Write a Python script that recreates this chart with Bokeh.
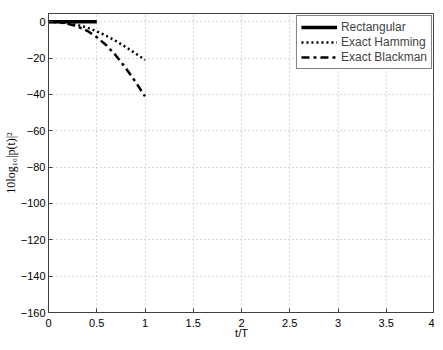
from bokeh.plotting import figure
from bokeh.models import FixedTicker, Legend, LegendItem
from bokeh.embed import file_html
from bokeh.resources import INLINE

# data
t_rect = [0.0, 0.5]
rect_db = [0.0, 0.0]

t_win = [0.0, 0.1, 0.2, 0.3, 0.4, 0.5, 0.6, 0.7, 0.8, 0.9, 1.0]
hamming_db = [0.0, -0.2, -0.8, -1.8, -3.3, -5.3, -7.8, -10.7, -13.9, -17.4, -21.0]
blackman_db = [0.0, -0.3, -1.1, -2.6, -5.0, -8.5, -13.0, -18.7, -25.5, -33.0, -41.0]

x_ticks = [0, 0.5, 1, 1.5, 2, 2.5, 3, 3.5, 4]
y_ticks = [-160, -140, -120, -100, -80, -60, -40, -20, 0]

FONT = "Liberation Sans"

p = figure(width=434, height=341, x_range=(0, 4), y_range=(-160, 4.5),
           output_backend="svg", toolbar_location=None,
           min_border_left=47, min_border_right=0, min_border_top=13, min_border_bottom=0)
p.background_fill_color = "white"
p.border_fill_color = "white"
p.outline_line_color = "#404040"
p.outline_line_width = 1

for ax in (p.xaxis[0], p.yaxis[0]):
    ax.major_tick_in = 4
    ax.major_tick_out = 0
    ax.minor_tick_in = 0
    ax.minor_tick_out = 0
    ax.axis_line_color = "#404040"
    ax.major_tick_line_color = "#404040"
    ax.major_label_text_font = FONT
    ax.major_label_text_font_size = "11px"
    ax.major_label_text_color = "black"
    ax.axis_label_text_color = "black"
    ax.axis_label_text_font_style = "normal"

p.xaxis.ticker = FixedTicker(ticks=x_ticks)
p.yaxis.ticker = FixedTicker(ticks=y_ticks)
p.xaxis.major_label_overrides = {0: "0", 0.5: "0.5", 1: "1", 1.5: "1.5", 2: "2",
                                 2.5: "2.5", 3: "3", 3.5: "3.5", 4: "4"}
p.yaxis.major_label_overrides = {v: ("\u2212" + str(-v) if v < 0 else str(v)) for v in y_ticks}
p.xaxis.axis_label = "t/T"
p.xaxis.axis_label_text_font = FONT
p.xaxis.axis_label_text_font_size = "11px"
p.xaxis.axis_label_standoff = -3
p.xaxis.major_label_standoff = 6
p.yaxis.axis_label = "10log\u2081\u2080|p(t)|\u00b2"
p.yaxis.axis_label_text_font = "Liberation Serif"
p.yaxis.axis_label_text_font_size = "12px"
p.yaxis.axis_label_standoff = 0
p.yaxis.major_label_standoff = 3

for g in (p.xgrid[0], p.ygrid[0]):
    g.grid_line_color = "#b0b0b0"
    g.grid_line_dash = "1 3"
    g.grid_line_width = 1
p.xgrid.ticker = FixedTicker(ticks=x_ticks)
p.ygrid.ticker = FixedTicker(ticks=y_ticks)

r1 = p.line(t_rect, rect_db, line_color="black", line_width=3.5)
r2 = p.line(t_win, hamming_db, line_color="black", line_width=2.5, line_dash="2 3")
r3 = p.line(t_win, blackman_db, line_color="black", line_width=2.5, line_dash="8 4 3 4")

legend = Legend(items=[LegendItem(label="Rectangular", renderers=[r1]),
                       LegendItem(label="Exact Hamming", renderers=[r2]),
                       LegendItem(label="Exact Blackman", renderers=[r3])],
                location="top_right")
legend.margin = 2
legend.padding = 4
legend.spacing = 1
legend.label_text_font = FONT
legend.label_text_font_size = "12px"
legend.label_height = 12
legend.glyph_height = 12
legend.glyph_width = 36
legend.label_standoff = 4
legend.border_line_color = "black"
legend.border_line_width = 1
legend.background_fill_alpha = 1
p.add_layout(legend, "center")

open("out.html", "w").write(file_html(p, INLINE))
